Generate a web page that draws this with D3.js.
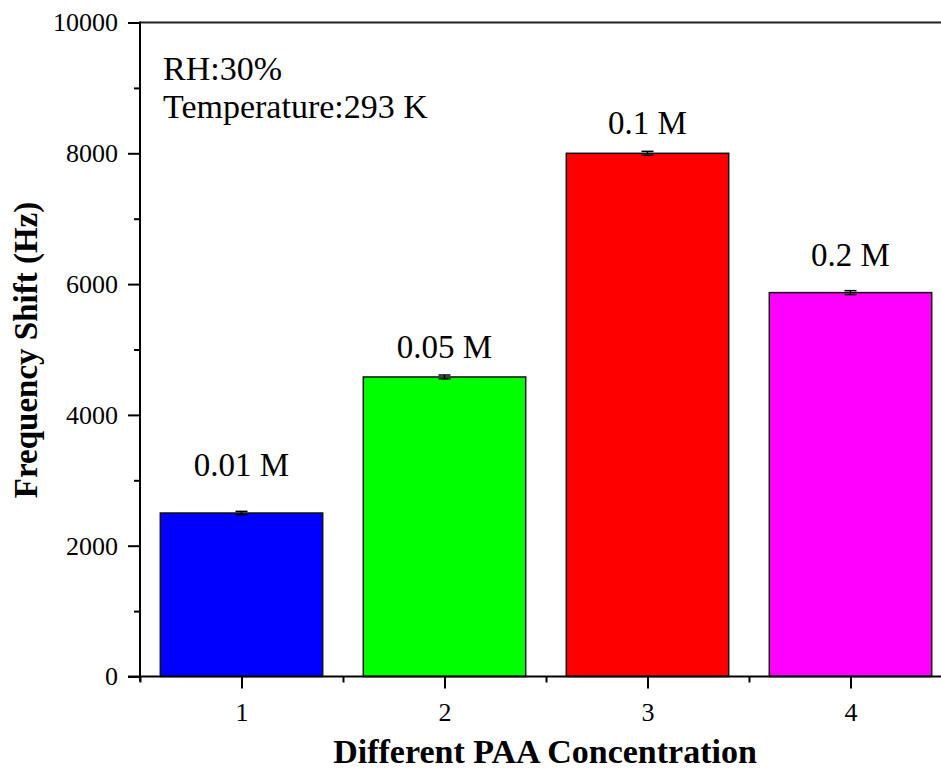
<!DOCTYPE html>
<html><head><meta charset="utf-8">
<script src="https://cdn.jsdelivr.net/npm/d3@7"></script>
<style>body{margin:0;background:#fff}svg{display:block}svg text{font-family:'Liberation Serif','Times New Roman','DejaVu Serif',serif !important}</style>
</head><body><svg id="c" width="941" height="771"></svg>
<script>
const categories = [1, 2, 3, 4];
const barLabels = ["0.01 M", "0.05 M", "0.1 M", "0.2 M"];
const values = [2500, 4580, 8000, 5870];
const errors = [25, 30, 30, 30];
const labelAt = [3060, 4870, 8290, 6270];
const colors = ["#0000FF", "#00FF00", "#FF0000", "#FF00FF"];
const yMajorTicks = [0, 2000, 4000, 6000, 8000, 10000];
const yMinorTicks = [1000, 3000, 5000, 7000, 9000];
const xMinorTicks = [0.5, 1.5, 2.5, 3.5];
const notes = ["RH:30%", "Temperature:293 K"];

const FONT = "'Liberation Serif', 'Times New Roman', serif";
const svg = d3.select("#c");
const x = d3.scaleLinear().domain([0.5, 4.5]).range([140, 952]);
const y = d3.scaleLinear().domain([0, 10000]).range([676.5, 22.5]);
const bw = 0.8;

// top frame line
svg.append("line").attr("x1", 140).attr("x2", 941).attr("y1", y(10000)).attr("y2", y(10000))
  .attr("stroke", "#222").attr("stroke-width", 2);

// bars
svg.selectAll("rect.bar").data(values).join("rect")
  .attr("x", (d, i) => x(categories[i] - bw / 2))
  .attr("width", (d, i) => x(categories[i] + bw / 2) - x(categories[i] - bw / 2))
  .attr("y", d => y(d)).attr("height", d => y(0) - y(d))
  .attr("fill", (d, i) => colors[i]).attr("stroke", "#111").attr("stroke-width", 1.5);

// error bars
const eg = svg.append("g").attr("stroke", "#000").attr("stroke-width", 1.5);
values.forEach((v, i) => {
  const cx = x(categories[i]);
  eg.append("line").attr("x1", cx).attr("x2", cx).attr("y1", y(v + errors[i])).attr("y2", y(v - errors[i]));
  eg.append("line").attr("x1", cx - 6).attr("x2", cx + 6).attr("y1", y(v + errors[i])).attr("y2", y(v + errors[i]));
  eg.append("line").attr("x1", cx - 6).attr("x2", cx + 6).attr("y1", y(v - errors[i])).attr("y2", y(v - errors[i]));
});

// bar labels
svg.selectAll("text.bl").data(barLabels).join("text")
  .attr("x", (d, i) => x(categories[i])).attr("y", (d, i) => y(labelAt[i]))
  .attr("text-anchor", "middle").attr("font-size", 33).attr("font-family", FONT)
  .attr("fill", "#000").text(d => d);

// Y axis
const yAxis = svg.append("g").attr("transform", "translate(140,0)")
  .call(d3.axisLeft(y).tickValues(yMajorTicks).tickSize(12).tickPadding(10).tickFormat(d3.format("d")));
yAxis.attr("font-family", FONT).attr("font-size", 26);
yAxis.select(".domain").remove();
yAxis.selectAll(".tick line").attr("stroke", "#000").attr("stroke-width", 2);
yAxis.selectAll("text").attr("fill", "#000");
svg.append("g").attr("transform", "translate(140,0)")
  .call(d3.axisLeft(y).tickValues(yMinorTicks).tickSize(6).tickFormat(""))
  .call(g => g.select(".domain").remove())
  .selectAll(".tick line").attr("stroke", "#000").attr("stroke-width", 2);
svg.append("line").attr("x1", 140).attr("x2", 140).attr("y1", y(10000) - 1).attr("y2", y(0) + 5)
  .attr("stroke", "#000").attr("stroke-width", 2);

// X axis
const xAxis = svg.append("g").attr("transform", `translate(0,${y(0)})`)
  .call(d3.axisBottom(x).tickValues(categories).tickSize(12).tickPadding(14).tickFormat(d3.format("d")));
xAxis.attr("font-family", FONT).attr("font-size", 26);
xAxis.select(".domain").remove();
xAxis.selectAll(".tick line").attr("stroke", "#000").attr("stroke-width", 2);
xAxis.selectAll("text").attr("fill", "#000");
svg.append("g").attr("transform", `translate(0,${y(0)})`)
  .call(d3.axisBottom(x).tickValues(xMinorTicks).tickSize(6).tickFormat(""))
  .call(g => g.select(".domain").remove())
  .selectAll(".tick line").attr("stroke", "#000").attr("stroke-width", 2);
svg.append("line").attr("x1", 128).attr("x2", 941).attr("y1", y(0)).attr("y2", y(0))
  .attr("stroke", "#000").attr("stroke-width", 2);

// axis titles
svg.append("text").attr("x", 545).attr("y", 763).attr("text-anchor", "middle")
  .attr("font-family", FONT).attr("font-size", 34).attr("font-weight", "bold")
  .text("Different PAA Concentration");
svg.append("text").attr("transform", "translate(37,350) rotate(-90)").attr("text-anchor", "middle")
  .attr("font-family", FONT).attr("font-size", 33).attr("font-weight", "bold")
  .text("Frequency Shift (Hz)");

// notes
svg.selectAll("text.note").data(notes).join("text")
  .attr("x", 163).attr("y", (d, i) => 80 + i * 38)
  .attr("font-family", FONT).attr("font-size", 34).text(d => d);
</script></body></html>
